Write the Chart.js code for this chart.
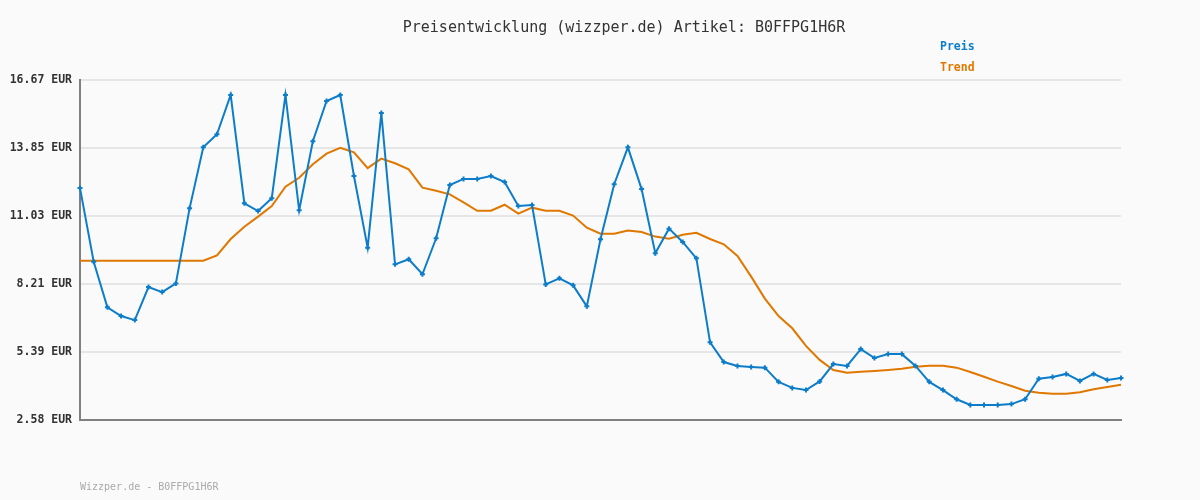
<!DOCTYPE html>
<html lang="de">
<head>
<meta charset="UTF-8">
<title>Preisentwicklung B0FFPG1H6R</title>
<script src="https://cdn.jsdelivr.net/npm/chart.js@4"></script>
<style>
  html, body { margin: 0; padding: 0; background: #fafafa; }
  #wrap { width: 1200px; height: 500px; }
</style>
</head>
<body>
<div id="wrap"><canvas id="priceChart" width="1200" height="500"></canvas></div>
<script>
// Preis values (EUR)
const preis = [
  12.19, 9.14, 7.25, 6.89, 6.72, 8.09, 7.88, 8.24, 11.35, 13.88,
  14.42, 16.05, 11.56, 11.24, 11.77, 16.05, 11.27, 14.13, 15.80, 16.05,
  12.69, 9.72, 15.30, 9.03, 9.24, 8.62, 10.11, 12.32, 12.57, 12.57,
  12.69, 12.44, 11.45, 11.49, 8.20, 8.45, 8.16, 7.29, 10.07, 12.35,
  13.88, 12.15, 9.49, 10.51, 9.96, 9.28, 5.80, 4.98, 4.82, 4.78,
  4.75, 4.16, 3.91, 3.82, 4.18, 4.90, 4.82, 5.52, 5.15, 5.31,
  5.31, 4.82, 4.16, 3.82, 3.44, 3.20, 3.20, 3.20, 3.24, 3.44,
  4.29, 4.36, 4.49, 4.20, 4.49, 4.24, 4.32
];
// Trend values
const trend = [
  9.18, 9.18, 9.18, 9.18, 9.18, 9.18, 9.18, 9.18, 9.18, 9.18,
  9.40, 10.08, 10.59, 11.01, 11.45, 12.25, 12.62, 13.18, 13.62, 13.86,
  13.67, 13.02, 13.41, 13.22, 12.97, 12.21, 12.08, 11.93, 11.60, 11.25,
  11.25, 11.50, 11.13, 11.38, 11.25, 11.25, 11.05, 10.55, 10.30, 10.30,
  10.43, 10.37, 10.18, 10.09, 10.26, 10.34, 10.08, 9.86, 9.38, 8.52,
  7.61, 6.89, 6.38, 5.65, 5.07, 4.65, 4.54, 4.58, 4.61, 4.65,
  4.70, 4.79, 4.83, 4.83, 4.75, 4.57, 4.37, 4.17, 3.99, 3.79,
  3.71, 3.67, 3.67, 3.73, 3.85, 3.95, 4.04
];
const labels = preis.map((_, i) => String(i + 1));
const yTicks = [2.58, 5.39, 8.21, 11.03, 13.85, 16.67];

const titleText = 'Preisentwicklung (wizzper.de) Artikel: B0FFPG1H6R';
const footerText = 'Wizzper.de - B0FFPG1H6R';
const MONO = '"DejaVu Sans Mono", "Liberation Mono", monospace';

// draws title, legend texts and footer
const decoPlugin = {
  id: 'deco',
  beforeDraw(chart) {
    const c = chart.ctx;
    c.save();
    c.fillStyle = '#fafafa';
    c.fillRect(0, 0, chart.width, chart.height);
    c.restore();
  },
  afterDraw(chart) {
    const c = chart.ctx;
    c.save();
    c.textBaseline = 'middle';
    c.font = '15px ' + MONO;
    c.fillStyle = '#333333';
    c.textAlign = 'center';
    c.fillText(titleText, 624, 28);

    c.textAlign = 'left';
    c.font = 'bold 11.5px ' + MONO;
    chart.data.datasets.forEach((ds, i) => {
      c.fillStyle = ds.borderColor;
      c.fillText(ds.label, 940, 47 + i * 21);
    });

    c.font = '10px ' + MONO;
    c.fillStyle = '#aaaaaa';
    c.fillText(footerText, 80, 487);
    c.restore();
  }
};

new Chart(document.getElementById('priceChart'), {
  type: 'line',
  data: {
    labels: labels,
    datasets: [
      {
        label: 'Preis',
        data: preis,
        borderColor: '#0d7dca',
        backgroundColor: '#0d7dca',
        borderWidth: 2,
        pointStyle: 'cross',
        pointRadius: 2.5,
        pointBorderWidth: 2,
        pointHoverRadius: 2.5,
        tension: 0
      },
      {
        label: 'Trend',
        data: trend,
        borderColor: '#e07800',
        backgroundColor: '#e07800',
        borderWidth: 2,
        pointRadius: 0,
        tension: 0
      }
    ]
  },
  options: {
    responsive: false,
    animation: false,
    layout: { padding: { left: 0, right: 79, top: 80, bottom: 80 } },
    plugins: {
      legend: { display: false },
      title: { display: false },
      tooltip: { enabled: false }
    },
    scales: {
      x: {
        offset: false,
        grid: { display: false },
        ticks: { display: false },
        border: { display: true, color: '#808080', width: 2 },
        afterFit(scale) { scale.height = 0; }
      },
      y: {
        min: 2.58,
        max: 16.67,
        afterBuildTicks(scale) {
          scale.ticks = yTicks.map(v => ({ value: v }));
        },
        afterFit(scale) { scale.width = 80; },
        grid: { color: '#e6e6e6', lineWidth: 2, drawTicks: false },
        border: { display: true, color: '#808080', width: 2 },
        ticks: {
          padding: 8,
          color: '#333333',
          font: { family: MONO, size: 11.5, weight: 'bold' },
          callback: v => v.toFixed(2) + ' EUR'
        }
      }
    }
  },
  plugins: [decoPlugin]
});
</script>
</body>
</html>
